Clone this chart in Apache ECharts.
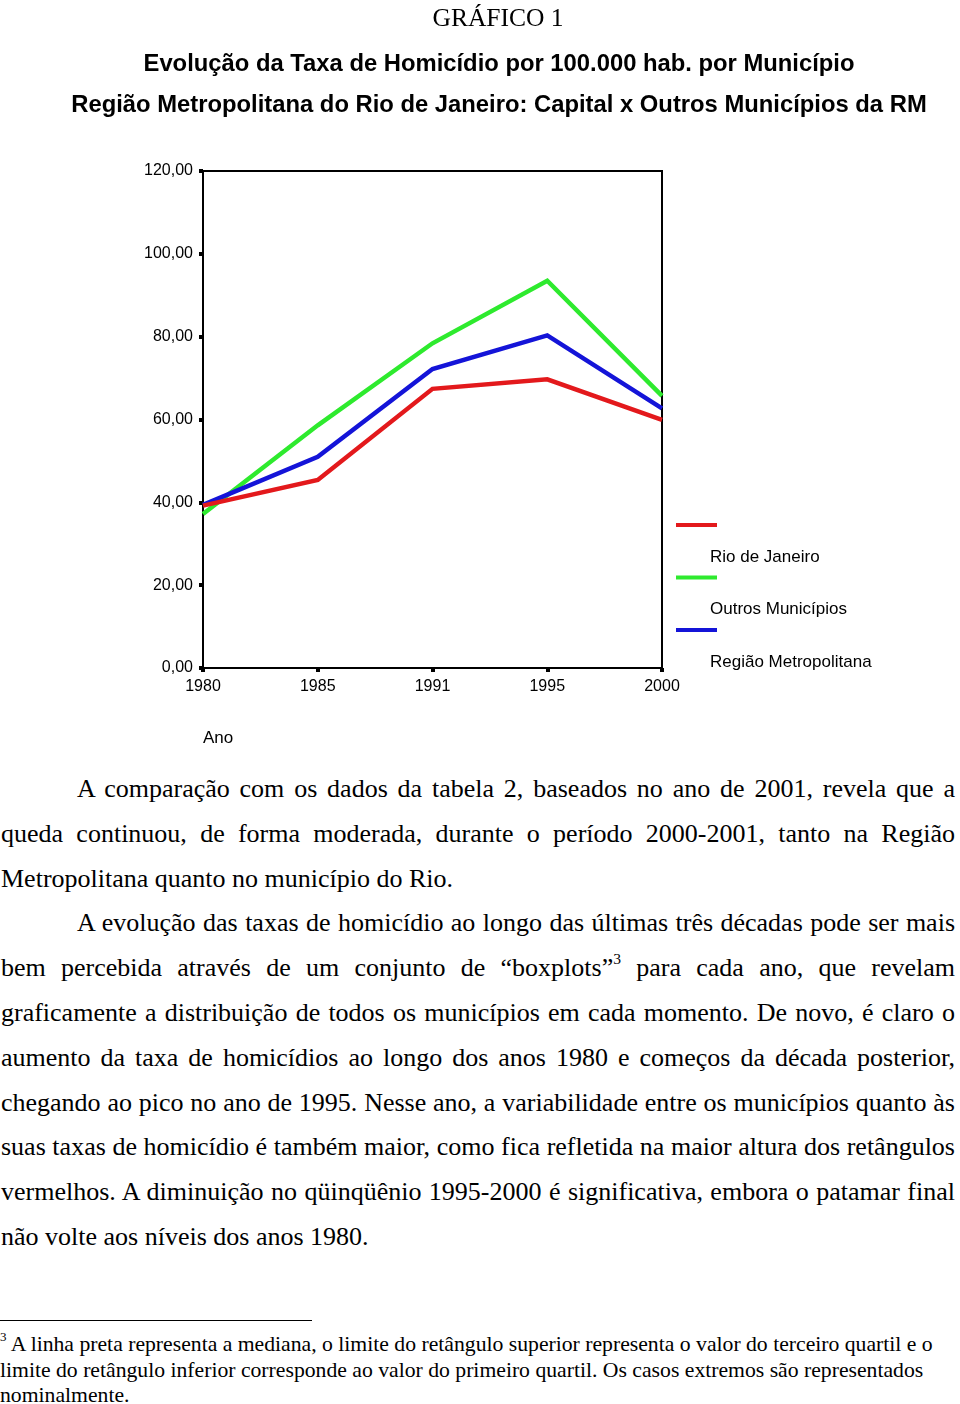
<!DOCTYPE html>
<html>
<head>
<meta charset="utf-8">
<script src="https://cdn.jsdelivr.net/npm/echarts@6/dist/echarts.min.js"></script>
<style>
  html, body { margin: 0; padding: 0; background: #fff; }
  #page { position: relative; width: 960px; height: 1404px; overflow: hidden; background: #fff; }
  #chart { position: absolute; left: 0; top: 0; width: 960px; height: 760px; }
  #body { position: absolute; left: 1px; top: 767px; width: 954px; font-family: 'Liberation Serif', 'Times New Roman', serif; font-size: 26px; line-height: 44.8px; color: #000; }
  #body .l { text-align: justify; text-align-last: justify; }
  #body .last { text-align: left; text-align-last: left; }
  #body .ind { padding-left: 76px; }
  sup { font-size: 60%; line-height: 0; vertical-align: 0.75em; }
  #rule { position: absolute; left: 0; top: 1320px; width: 312px; height: 0; border-top: 1.5px solid #000; }
  #foot { position: absolute; left: 0; top: 1332px; width: 960px; font-family: 'Liberation Serif', 'Times New Roman', serif; font-size: 21.7px; line-height: 25.5px; color: #000; white-space: nowrap; }
</style>
</head>
<body>
<div id="page">
  <div id="chart"></div>
  <div id="body">
    <div class="l ind">A comparação com os dados da tabela 2, baseados no ano de 2001, revela que a</div>
    <div class="l">queda continuou, de forma moderada, durante o período 2000-2001, tanto na Região</div>
    <div class="last">Metropolitana quanto no município do Rio.</div>
    <div class="l ind">A evolução das taxas de homicídio ao longo das últimas três décadas pode ser mais</div>
    <div class="l">bem percebida através de um conjunto de “boxplots”<sup>3</sup> para cada ano, que revelam</div>
    <div class="l">graficamente a distribuição de todos os municípios em cada momento. De novo, é claro o</div>
    <div class="l">aumento da taxa de homicídios ao longo dos anos 1980 e começos da década posterior,</div>
    <div class="l">chegando ao pico no ano de 1995. Nesse ano, a variabilidade entre os municípios quanto às</div>
    <div class="l">suas taxas de homicídio é também maior, como fica refletida na maior altura dos retângulos</div>
    <div class="l">vermelhos. A diminuição no qüinqüênio 1995-2000 é significativa, embora o patamar final</div>
    <div class="last">não volte aos níveis dos anos 1980.</div>
  </div>
  <div id="rule"></div>
  <div id="foot">
    <div><sup>3</sup> A linha preta representa a mediana, o limite do retângulo superior representa o valor do terceiro quartil e o</div>
    <div>limite do retângulo inferior corresponde ao valor do primeiro quartil. Os casos extremos são representados</div>
    <div>nominalmente.</div>
  </div>
</div>
<script>
const years = ['1980', '1985', '1991', '1995', '2000'];
const seriesNames = ['Rio de Janeiro', 'Outros Municípios', 'Região Metropolitana'];
const rioDeJaneiro = [39.2, 45.4, 67.4, 69.7, 59.9];
const outrosMunicipios = [37.2, 58.6, 78.4, 93.5, 65.7];
const regiaoMetropolitana = [39.4, 51.0, 72.2, 80.3, 62.7];
const yMin = 0, yMax = 120, yStep = 20;
const titleLines = ['GRÁFICO 1',
  'Evolução da Taxa de Homicídio por 100.000 hab. por Município',
  'Região Metropolitana do Rio de Janeiro: Capital x Outros Municípios da RM'];
const xAxisName = 'Ano';

const colors = ['#e3191c', '#2eea2e', '#1414d8'];
const seriesData = [rioDeJaneiro, outrosMunicipios, regiaoMetropolitana];
const zs = [4, 2, 3];

const chart = echarts.init(document.getElementById('chart'), null, { renderer: 'canvas' });
const sans = "'Liberation Sans', Arial, Helvetica, sans-serif";
const narrow = "'Liberation Sans Narrow', 'Arial Narrow', 'Liberation Sans', Arial, sans-serif";

chart.setOption({
  animation: false,
  backgroundColor: '#fff',
  title: [
    { text: titleLines[0], left: 493, textAlign: 'center', top: 1,
      textStyle: { fontFamily: "'Liberation Serif', 'Times New Roman', serif", fontWeight: 'normal', fontSize: 25.5, color: '#000' } },
    { text: titleLines[1], left: 494, textAlign: 'center', top: 47,
      textStyle: { fontFamily: narrow, fontWeight: 'bold', fontSize: 23.8, color: '#000' } },
    { text: titleLines[2], left: 494, textAlign: 'center', top: 88,
      textStyle: { fontFamily: narrow, fontWeight: 'bold', fontSize: 23.8, color: '#000' } }
  ],
  legend: [
    { data: seriesNames, orient: 'vertical', left: 676, top: 515, padding: 0, icon: 'rect',
      itemWidth: 41, itemHeight: 4, itemGap: 32.5, selectedMode: false,
      formatter: function () { return ' '; },
      textStyle: { fontSize: 17, lineHeight: 20, fontFamily: sans } },
    { data: seriesNames, orient: 'vertical', left: 705, top: 547, padding: 0, icon: 'none',
      itemWidth: 0, itemHeight: 4, itemGap: 32.5, selectedMode: false,
      textStyle: { fontSize: 17, lineHeight: 20, fontFamily: sans, color: '#000' } }
  ],
  grid: { left: 203, right: 298, top: 171, bottom: 92, show: true, borderColor: '#000', borderWidth: 2, backgroundColor: 'transparent', containLabel: false },
  xAxis: {
    type: 'category', data: years, boundaryGap: false,
    name: xAxisName, nameLocation: 'start', nameGap: 0,
    nameTextStyle: { fontFamily: sans, fontSize: 17, color: '#000', align: 'left', verticalAlign: 'top', padding: [62, 0, 0, 0] },
    axisLine: { lineStyle: { color: '#000', width: 2 } },
    axisTick: { show: true, length: 4, lineStyle: { color: '#000', width: 4 } },
    axisLabel: { fontFamily: sans, fontSize: 16, color: '#000', margin: 11 },
    splitLine: { show: false }
  },
  yAxis: {
    type: 'value', min: yMin, max: yMax, interval: yStep,
    axisLine: { show: true, lineStyle: { color: '#000', width: 2 } },
    axisTick: { show: true, length: 4, lineStyle: { color: '#000', width: 4 } },
    axisLabel: { fontFamily: sans, fontSize: 16, color: '#000', margin: 10,
      formatter: function (v) { return v.toFixed(2).replace('.', ','); } },
    splitLine: { show: false }
  },
  series: seriesNames.map(function (name, i) {
    return {
      name: name, type: 'line', data: seriesData[i], z: zs[i],
      symbol: 'none', showSymbol: false,
      lineStyle: { color: colors[i], width: 4.5, cap: 'butt', join: 'miter' },
      itemStyle: { color: colors[i] },
      emphasis: { disabled: true }
    };
  })
});
</script>
</body>
</html>
